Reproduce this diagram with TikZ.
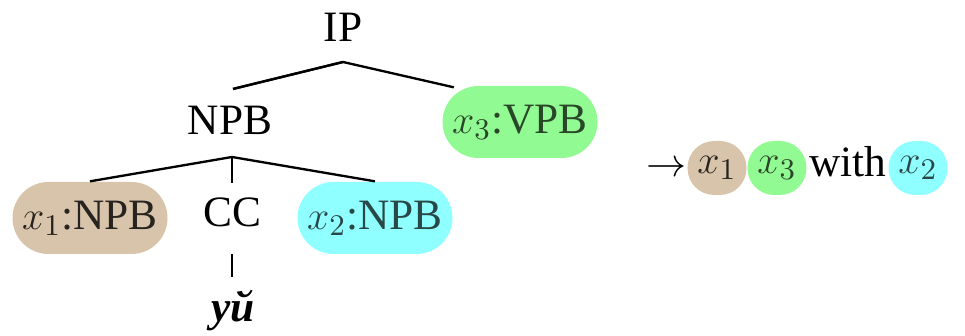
\documentclass[tikz,border=0pt]{standalone}
\usepackage{fontspec}
\setmainfont{Liberation Serif}
\usetikzlibrary{calc}
\definecolor{tanfill}{RGB}{216,196,170}
\definecolor{greenfill}{RGB}{146,250,146}
\definecolor{cyanfill}{RGB}{144,255,255}
\begin{document}
\begin{tikzpicture}[x=0.3pt,y=-0.3pt,
  every node/.style={font=\fontsize{13}{15}\selectfont, inner sep=0pt},
  lbl/.style={anchor=base},
  pill/.style={rounded corners=10.8pt, minimum width=46.5pt, minimum height=21.6pt},
  dotnode/.style={rounded corners=8pt, minimum width=17.7pt, minimum height=16.2pt},
  tan/.style={fill=tanfill, text=tanfill!18!black},
  grn/.style={fill=greenfill, text=greenfill!28!black},
  cyn/.style={fill=cyanfill, text=cyanfill!28!black},
  edge/.style={line width=0.7pt},
  dashedge/.style={line width=0.7pt, dash pattern=on 6.9pt off 20pt}]
\useasboundingbox (0,0) rectangle (965,336);
% tree nodes
\node[lbl] (ip) at (343,42) {IP};
\node[lbl] (npb) at (230,135) {NPB};
\node[pill,grn] (vpb) at (520,122) {$x_3$:VPB};
\node[pill,tan] (n1) at (90,218) {$x_1$:NPB};
\node[lbl] (cc) at (232,227) {CC};
\node[pill,cyn] (n2) at (375,218) {$x_2$:NPB};
\node[lbl,font=\fontsize{13}{15}\selectfont\bfseries\itshape] (yj) at (233,322) {уй};
% branch points
\coordinate (ipb) at (343,62);
\coordinate (npbb) at (232,157);
% edges
\draw[edge] (npb.north) ++(3,-17) coordinate (npbt) -- (ipb) -- ($(vpb.north west)+(12,2)$);
\draw[edge] (ipb) -- (npbt);
\draw[edge] (n1.north) -- (npbb) -- (n2.north);
\draw[edge] (npbb) -- (npbb |- 0,183) coordinate (cct) -- (cct -| cc.north);
\draw[dashedge] ($(cc.base)+(0,27)$) -- (yj.north -| cc.base);
% right side
\node[lbl] (arr) at (666,177) {$\rightarrow$};
\node[dotnode,tan] (r1) at (717,168) {$x_1$};
\node[dotnode,grn] (r3) at (777,168) {$x_3$};
\node[lbl] (with) at (848,177) {with};
\node[dotnode,cyn] (r2) at (918,168) {$x_2$};
\end{tikzpicture}
\end{document}
